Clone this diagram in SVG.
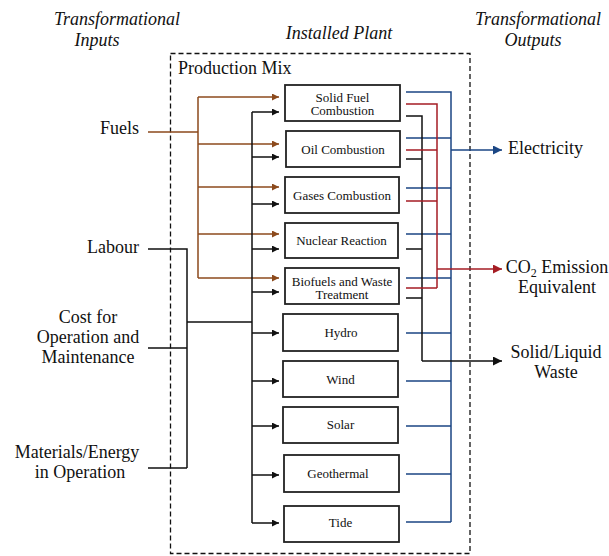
<svg xmlns="http://www.w3.org/2000/svg" width="609" height="556" viewBox="0 0 609 556">
<defs>
<style>
text{font-family:'Liberation Serif','Times New Roman','DejaVu Serif',serif;fill:#111}
.h{font-size:18px;font-style:italic}
.t{font-size:18px}
.b{font-size:13px;text-anchor:middle}
.box{fill:#fff;stroke:#222;stroke-width:1.8}
.k{stroke:#111;stroke-width:1.5;fill:none}
.br{stroke:#8c4a1c;stroke-width:1.5;fill:none}
.rd{stroke:#a51d24;stroke-width:1.5;fill:none}
.bl{stroke:#1b4684;stroke-width:1.5;fill:none}
.ka{stroke:#111;stroke-width:1.5;fill:none;marker-end:url(#ak)}
.bra{stroke:#8c4a1c;stroke-width:1.5;fill:none;marker-end:url(#abr)}
</style>
<marker id="ak" viewBox="0 0 10 10" refX="10" refY="5" markerWidth="7" markerHeight="7" markerUnits="userSpaceOnUse" orient="auto"><path d="M0,0L10,5L0,10z" fill="#111"/></marker>
<marker id="abr" viewBox="0 0 10 10" refX="10" refY="5" markerWidth="7" markerHeight="7" markerUnits="userSpaceOnUse" orient="auto"><path d="M0,0L10,5L0,10z" fill="#8c4a1c"/></marker>
<marker id="ak2" viewBox="0 0 10 10" refX="10" refY="5" markerWidth="10" markerHeight="9" markerUnits="userSpaceOnUse" orient="auto"><path d="M0,0L10,5L0,10z" fill="#111"/></marker>
<marker id="ard" viewBox="0 0 10 10" refX="10" refY="5" markerWidth="10" markerHeight="9" markerUnits="userSpaceOnUse" orient="auto"><path d="M0,0L10,5L0,10z" fill="#a51d24"/></marker>
<marker id="abl" viewBox="0 0 10 10" refX="10" refY="5" markerWidth="10" markerHeight="9" markerUnits="userSpaceOnUse" orient="auto"><path d="M0,0L10,5L0,10z" fill="#1b4684"/></marker>
</defs>

<g id="headers" font-family="Liberation Serif, Times New Roman, serif">
<text class="h" x="117" y="25" text-anchor="middle">Transformational</text>
<text class="h" x="97" y="46" text-anchor="middle">Inputs</text>
<text class="h" x="339" y="39" text-anchor="middle">Installed Plant</text>
<text class="h" x="538" y="25" text-anchor="middle">Transformational</text>
<text class="h" x="533" y="46" text-anchor="middle">Outputs</text>
</g>

<g id="production-mix">
<rect x="170.5" y="53.5" width="299.5" height="500" fill="none" stroke="#111" stroke-width="1.3" stroke-dasharray="5,3"/>
<text class="t" x="178" y="74">Production Mix</text>
</g>

<g id="connectors">
<path class="br" d="M148,132H198M198,97V278"/>
<path class="bra" d="M198,97H279"/>
<path class="bra" d="M198,144H279"/>
<path class="bra" d="M198,187H279"/>
<path class="bra" d="M198,234H279"/>
<path class="bra" d="M198,278H279"/>
<path class="k" d="M148,249H187V468M148,348H187M148,468H187M187,322H252M252,112V523"/>
<path class="ka" d="M252,112H279"/>
<path class="ka" d="M252,157H279"/>
<path class="ka" d="M252,204H279"/>
<path class="ka" d="M252,249H279"/>
<path class="ka" d="M252,292H279"/>
<path class="ka" d="M252,333H279"/>
<path class="ka" d="M252,381H279"/>
<path class="ka" d="M252,426H279"/>
<path class="ka" d="M252,475H279"/>
<path class="ka" d="M252,523H279"/>
<path class="bl" d="M406,92H451V522M406,138H451M406,188H451M406,234H451M406,278H451M406,333H451M406,381H451M406,426H451M406,474H451M406,522H451"/>
<path class="k" d="M406,116H422V361M406,159H422M406,249H422M406,298H422"/>
<path class="rd" d="M406,104H437V288M406,150H437M406,201H437M406,288H437"/>
<path class="bl" marker-end="url(#abl)" d="M451,150H502"/>
<path class="rd" marker-end="url(#ard)" d="M437,269H502"/>
<path class="k" marker-end="url(#ak2)" d="M422,361H502"/>
</g>

<g id="in-fuels"><text class="t" x="139" y="134" text-anchor="end">Fuels</text></g>
<g id="in-labour"><text class="t" x="139" y="253" text-anchor="end">Labour</text></g>
<g id="in-cost"><text class="t" text-anchor="middle"><tspan x="88" y="323">Cost for</tspan><tspan x="88" y="343">Operation and</tspan><tspan x="88" y="363">Maintenance</tspan></text></g>
<g id="in-materials"><text class="t" text-anchor="middle"><tspan x="77" y="458">Materials/Energy</tspan><tspan x="80" y="478">in Operation</tspan></text></g>

<g id="solid-fuel"><rect class="box" x="285" y="85" width="115" height="36"/><text class="b"><tspan x="342.5" y="101.5">Solid Fuel</tspan><tspan x="342.5" y="114.5">Combustion</tspan></text></g>
<g id="oil"><rect class="box" x="286" y="131" width="114" height="36"/><text class="b" x="343" y="154">Oil Combustion</text></g>
<g id="gases"><rect class="box" x="285" y="177" width="114" height="36"/><text class="b" x="342" y="199.5">Gases Combustion</text></g>
<g id="nuclear"><rect class="box" x="285" y="223" width="113" height="35"/><text class="b" x="341.5" y="245">Nuclear Reaction</text></g>
<g id="biofuels"><rect class="box" x="285" y="268" width="114" height="36"/><text class="b"><tspan x="342" y="285.5">Biofuels and Waste</tspan><tspan x="342" y="298.5">Treatment</tspan></text></g>
<g id="hydro"><rect class="box" x="283" y="314" width="115" height="37"/><text class="b" x="341" y="337">Hydro</text></g>
<g id="wind"><rect class="box" x="283" y="361" width="115" height="36"/><text class="b" x="340.5" y="384">Wind</text></g>
<g id="solar"><rect class="box" x="283" y="407" width="115" height="36"/><text class="b" x="340.5" y="429">Solar</text></g>
<g id="geothermal"><rect class="box" x="284" y="455" width="115" height="37"/><text class="b" x="338" y="478">Geothermal</text></g>
<g id="tide"><rect class="box" x="284" y="506" width="115" height="36"/><text class="b" x="340.5" y="527">Tide</text></g>

<g id="out-electricity"><text class="t" x="508" y="154">Electricity</text></g>
<g id="out-co2"><text class="t" text-anchor="middle"><tspan x="557" y="273">CO<tspan font-size="12" dy="4">2</tspan><tspan dy="-4"> Emission</tspan></tspan><tspan x="557" y="293">Equivalent</tspan></text></g>
<g id="out-waste"><text class="t" text-anchor="middle"><tspan x="556" y="358">Solid/Liquid</tspan><tspan x="556" y="378">Waste</tspan></text></g>
</svg>
